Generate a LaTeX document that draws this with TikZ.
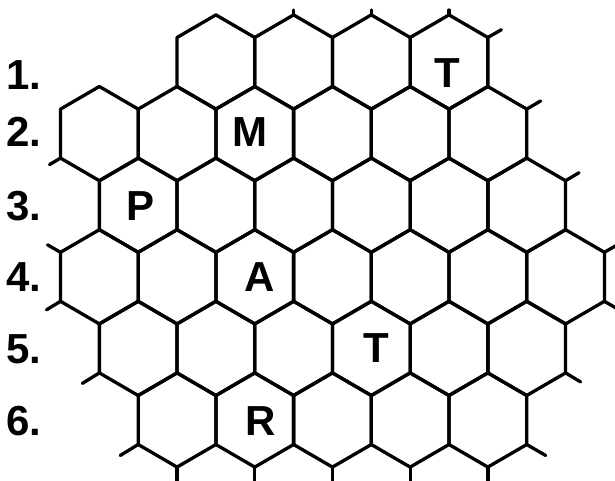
\documentclass[tikz,border=0pt]{standalone}
\usepackage{fontspec}
\setmainfont{Liberation Sans}
\begin{document}
\begin{tikzpicture}[x=1pt,y=-1pt,
  hexline/.style={line width=3.3pt, line join=round, line cap=round, draw=black},
  lab/.style={font=\bfseries\fontsize{42}{42}\selectfont, inner sep=0pt, anchor=center}]
\useasboundingbox (0,0) rectangle (615,481);
\fill[white] (0,0) rectangle (615,481);
\begin{scope}
\clip (0,0) rectangle (615,481);
% hexagon cells (doubled column index j, row r)
\foreach \j/\r in {4/1,6/1,8/1,10/1,
                   1/2,3/2,5/2,7/2,9/2,11/2,
                   2/3,4/3,6/3,8/3,10/3,12/3,
                   1/4,3/4,5/4,7/4,9/4,11/4,13/4,
                   2/5,4/5,6/5,8/5,10/5,12/5,
                   3/6,5/6,7/6,9/6,11/6}{
  \pgfmathsetmacro\cx{60.5+38.85*\j}
  \pgfmathsetmacro\cy{62+71.6*(\r-1)}
  \draw[hexline] (\cx,\cy-47.1) -- (\cx+38.85,\cy-24.5) -- (\cx+38.85,\cy+24.5)
     -- (\cx,\cy+47.1) -- (\cx-38.85,\cy+24.5) -- (\cx-38.85,\cy-24.5) -- cycle;
}
% stubs of neighbouring cells
\draw[hexline] (293.6,14.9) -- (293.6,10);
\draw[hexline] (371.3,14.9) -- (371.3,10);
\draw[hexline] (449,14.9) -- (449,10);
\draw[hexline] (487.85,37.5) -- ++(13.5,-7.8);
\draw[hexline] (526.7,109.1) -- ++(14,-8.2);
\draw[hexline] (565.55,180.7) -- ++(13.5,-8);
\draw[hexline] (604.4,252.3) -- ++(15,-8.7);
\draw[hexline] (604.4,301.3) -- ++(15,8.7);
\draw[hexline] (565.55,372.9) -- ++(15,9);
\draw[hexline] (526.7,444.5) -- ++(19,11);
\foreach \x in {177.05,254.75,332.45,410.15,487.85}{
  \draw[hexline] (\x,467.1) -- (\x,485);
}
\draw[hexline] (138.2,444.5) -- ++(-18,11);
\draw[hexline] (99.35,372.9) -- ++(-17,10.5);
\draw[hexline] (60.5,301.3) -- ++(-14,8.5);
\draw[hexline] (60.5,252.3) -- ++(-13,-7.5);
\draw[hexline] (60.5,158.1) -- ++(-11,6.5);
\end{scope}
% row labels
\node[lab] (l1) at (24,75) {1.};
\node[lab] (l2) at (24,132) {2.};
\node[lab] (l3) at (24,206) {3.};
\node[lab] (l4) at (24,277) {4.};
\node[lab] (l5) at (24,349) {5.};
\node[lab] (l6) at (24,421) {6.};
% cell letters
\node[lab] (t1) at (447,73) {T};
\node[lab] (m) at (250,132) {M};
\node[lab] (p) at (141,206) {P};
\node[lab] (a) at (260,277) {A};
\node[lab] (t2) at (376,348) {T};
\node[lab] (r) at (261,421) {R};
\end{tikzpicture}
\end{document}
